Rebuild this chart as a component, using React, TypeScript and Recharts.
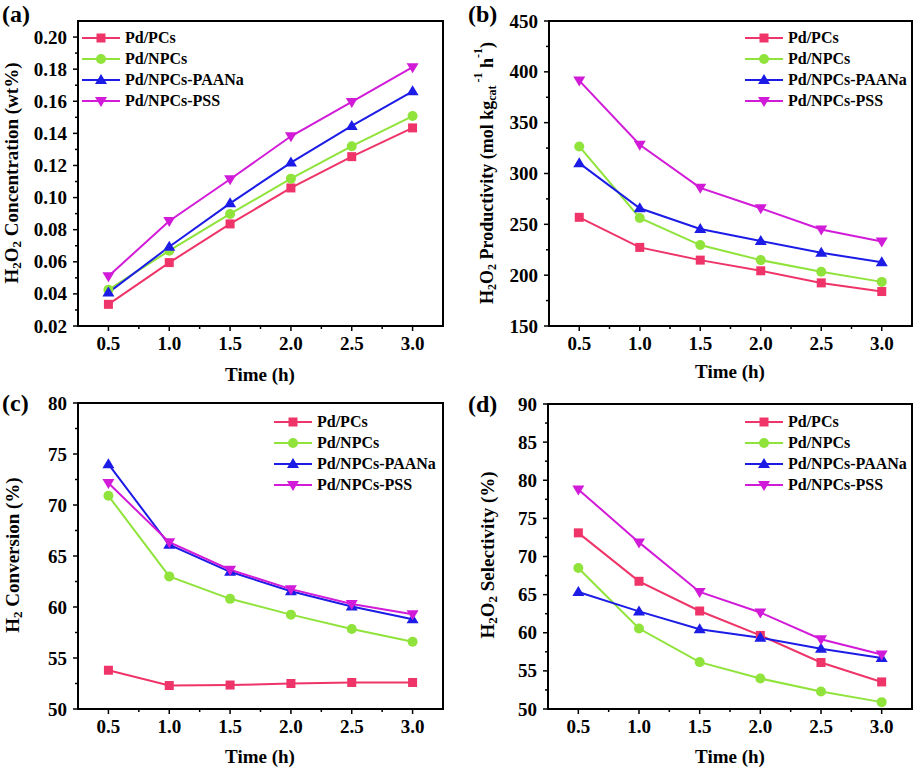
import { LineChart, Line, XAxis, YAxis, Legend, Label, ReferenceArea } from "recharts";

const FONT = '"Liberation Serif", "Times New Roman", serif';

const TIMES = [0.5, 1.0, 1.5, 2.0, 2.5, 3.0];
const X_TICKS = [0.5, 0.75, 1.0, 1.25, 1.5, 1.75, 2.0, 2.25, 2.5, 2.75, 3.0];
const X_MAJOR = [0.5, 1.0, 1.5, 2.0, 2.5, 3.0];

// (a) H2O2 concentration (wt%)
const concPCs = [0.0335, 0.0595, 0.0836, 0.106, 0.1255, 0.1434];
const concNPCs = [0.0426, 0.0669, 0.0898, 0.1118, 0.132, 0.1508];
const concPAANa = [0.0408, 0.0694, 0.0964, 0.1218, 0.1446, 0.1662];
const concPSS = [0.051, 0.0854, 0.1114, 0.1382, 0.1596, 0.1812];

// (b) H2O2 productivity
const prodPCs = [256.9, 227.3, 214.8, 204.3, 192.4, 183.9];
const prodNPCs = [326.6, 256.3, 229.6, 214.8, 203.3, 193.4];
const prodPAANa = [310.2, 265.8, 245.4, 233.6, 222.0, 212.8];
const prodPSS = [391.4, 328.3, 285.9, 265.8, 245.0, 233.2];

// (c) H2 conversion (%)
const convPCs = [53.8, 52.3, 52.35, 52.5, 52.6, 52.6];
const convNPCs = [70.9, 63.0, 60.8, 59.25, 57.85, 56.6];
const convPAANa = [74.0, 66.1, 63.45, 61.55, 60.05, 58.8];
const convPSS = [72.15, 66.35, 63.65, 61.75, 60.3, 59.3];

// (d) H2O2 selectivity (%)
const selPCs = [73.1, 66.75, 62.85, 59.65, 56.1, 53.55];
const selNPCs = [68.5, 60.55, 56.15, 54.0, 52.3, 50.9];
const selPAANa = [65.35, 62.8, 60.45, 59.35, 57.9, 56.7];
const selPSS = [78.8, 71.85, 65.35, 62.65, 59.15, 57.15];

const SERIES = [
  { key: "pcs", name: "Pd/PCs", color: "#EE3468", shape: "square" },
  { key: "npcs", name: "Pd/NPCs", color: "#8FE33B", shape: "circle" },
  { key: "paana", name: "Pd/NPCs-PAANa", color: "#1C1CE6", shape: "up" },
  { key: "pss", name: "Pd/NPCs-PSS", color: "#D21BD8", shape: "down" },
];

const build = (a: number[], b: number[], c: number[], d: number[]) =>
  TIMES.map((t, i) => ({ t, pcs: a[i], npcs: b[i], paana: c[i], pss: d[i] }));

function Marker({ shape, cx, cy, color }: any) {
  if (shape === "square")
    return <rect x={cx - 4.5} y={cy - 4.5} width={9} height={9} fill={color} />;
  if (shape === "circle") return <circle cx={cx} cy={cy} r={5} fill={color} />;
  if (shape === "up")
    return <polygon points={`${cx},${cy - 6} ${cx + 6},${cy + 4} ${cx - 6},${cy + 4}`} fill={color} />;
  return <polygon points={`${cx},${cy + 6} ${cx + 6},${cy - 4} ${cx - 6},${cy - 4}`} fill={color} />;
}

const isMajor = (majors: number[], v: number) => majors.some((m) => Math.abs(m - v) < 1e-9);

const xTick = (p: any) => {
  const { x, y, payload } = p;
  const major = isMajor(X_MAJOR, payload.value);
  return (
    <g>
      <line x1={x} x2={x} y1={y} y2={y + (major ? 5 : 3)} stroke="#000" strokeWidth={1.5} />
      {major && (
        <text x={x} y={y + 24} textAnchor="middle" fontFamily={FONT} fontWeight="bold" fontSize={19} fill="#000">
          {payload.value.toFixed(1)}
        </text>
      )}
    </g>
  );
};

const makeYTick = (majors: number[], digits: number) => (p: any) => {
  const { x, y, payload } = p;
  const major = isMajor(majors, payload.value);
  return (
    <g>
      <line x1={x - (major ? 5 : 3)} x2={x} y1={y} y2={y} stroke="#000" strokeWidth={1.5} />
      {major && (
        <text x={x - 11} y={y + 6.5} textAnchor="end" fontFamily={FONT} fontWeight="bold" fontSize={19} fill="#000">
          {payload.value.toFixed(digits)}
        </text>
      )}
    </g>
  );
};

const legendContent = () => (
  <div style={{ fontFamily: FONT, fontWeight: "bold", fontSize: 16, color: "#000" }}>
    {SERIES.map((s) => (
      <div key={s.key} style={{ display: "flex", alignItems: "center", height: 21, whiteSpace: "nowrap" }}>
        <svg width={43} height={14} style={{ flex: "none" }}>
          <line x1={0} x2={38} y1={7} y2={7} stroke={s.color} strokeWidth={2} />
          <Marker shape={s.shape} cx={19} cy={7} color={s.color} />
        </svg>
        <span>{s.name}</span>
      </div>
    ))}
  </div>
);

function Panel({ left, top, width, height, margin, yWidth, xHeight, data, domain, yTicks, yMajor, digits, yTitle, yTitleSize, yTitlePos, xTitlePos, legendPos }: any) {
  return (
    <div style={{ position: "absolute", left, top, width, height }}>
      <LineChart width={width} height={height} data={data} margin={margin}>
        <XAxis
          dataKey="t"
          type="number"
          domain={[0.25, 3.25]}
          ticks={X_TICKS}
          interval={0}
          height={xHeight}
          tickSize={0}
          tickMargin={0}
          tickLine={false}
          tick={xTick}
          axisLine={{ stroke: "#000", strokeWidth: 2 }}
        >
          <Label
            content={() => (
              <text x={xTitlePos[0]} y={xTitlePos[1]} textAnchor="middle" fontFamily={FONT} fontWeight="bold" fontSize={19} fill="#000">
                Time (h)
              </text>
            )}
          />
        </XAxis>
        <YAxis
          type="number"
          domain={domain}
          ticks={yTicks}
          interval={0}
          width={yWidth}
          tickSize={0}
          tickMargin={0}
          tickLine={false}
          tick={makeYTick(yMajor, digits)}
          axisLine={{ stroke: "#000", strokeWidth: 2 }}
        >
          <Label
            content={() => (
              <text
                x={yTitlePos[0]}
                y={yTitlePos[1]}
                transform={`rotate(-90, ${yTitlePos[0]}, ${yTitlePos[1]})`}
                textAnchor="middle"
                dominantBaseline="central"
                fontFamily={FONT}
                fontWeight="bold"
                fontSize={yTitleSize}
                fill="#000"
              >
                {yTitle}
              </text>
            )}
          />
        </YAxis>
        <ReferenceArea x1={0.25} x2={3.25} y1={domain[0]} y2={domain[1]} fill="none" fillOpacity={0} stroke="#000" strokeWidth={2} />
        <Legend
          layout="vertical"
          align="center"
          verticalAlign="middle"
          content={legendContent}
          wrapperStyle={{ left: legendPos[0], top: legendPos[1], width: 160 }}
        />
        {SERIES.map((s) => (
          <Line
            key={s.key}
            type="linear"
            dataKey={s.key}
            name={s.name}
            stroke={s.color}
            strokeWidth={2}
            isAnimationActive={false}
            activeDot={false}
            dot={(p: any) => <Marker key={`${s.key}-${p.index}`} shape={s.shape} cx={p.cx} cy={p.cy} color={s.color} />}
          />
        ))}
      </LineChart>
    </div>
  );
}

export default function App() {
  const titleA = (
    <>
      <tspan>H</tspan>
      <tspan dy={5} fontSize={13}>2</tspan>
      <tspan dy={-5}>O</tspan>
      <tspan dy={5} fontSize={13}>2</tspan>
      <tspan dy={-5}> Concentration (wt%)</tspan>
    </>
  );
  const titleB = (
    <>
      <tspan>H</tspan>
      <tspan dy={5} fontSize={12}>2</tspan>
      <tspan dy={-5}>O</tspan>
      <tspan dy={5} fontSize={12}>2</tspan>
      <tspan dy={-5}> Productivity (mol kg</tspan>
      <tspan dy={5} fontSize={12}>cat</tspan>
      <tspan dy={-14} fontSize={12}> -1</tspan>
      <tspan dy={9}> h</tspan>
      <tspan dy={-9} fontSize={12}>-1</tspan>
      <tspan dy={9}>)</tspan>
    </>
  );
  const titleC = (
    <>
      <tspan>H</tspan>
      <tspan dy={5} fontSize={13}>2</tspan>
      <tspan dy={-5}> Conversion (%)</tspan>
    </>
  );
  const titleD = (
    <>
      <tspan>H</tspan>
      <tspan dy={5} fontSize={13}>2</tspan>
      <tspan dy={-5}>O</tspan>
      <tspan dy={5} fontSize={13}>2</tspan>
      <tspan dy={-5}> Selectivity (%)</tspan>
    </>
  );

  return (
    <div style={{ position: "absolute", left: 0, top: 0, width: 915, height: 767, overflow: "hidden", background: "#fff" }}>
      <Panel
        left={0}
        top={0}
        width={457}
        height={393}
        margin={{ top: 21, right: 14, bottom: 10, left: 0 }}
        yWidth={78}
        xHeight={57}
        data={build(concPCs, concNPCs, concPAANa, concPSS)}
        domain={[0.02, 0.21]}
        yTicks={[0.02, 0.03, 0.04, 0.05, 0.06, 0.07, 0.08, 0.09, 0.1, 0.11, 0.12, 0.13, 0.14, 0.15, 0.16, 0.17, 0.18, 0.19, 0.2]}
        yMajor={[0.02, 0.04, 0.06, 0.08, 0.1, 0.12, 0.14, 0.16, 0.18, 0.2]}
        digits={2}
        yTitle={titleA}
        yTitleSize={19}
        yTitlePos={[11, 173]}
        xTitlePos={[260, 381]}
        legendPos={[82, 27]}
      />
      <Panel
        left={457}
        top={0}
        width={458}
        height={393}
        margin={{ top: 21, right: 3, bottom: 10, left: 0 }}
        yWidth={92}
        xHeight={57}
        data={build(prodPCs, prodNPCs, prodPAANa, prodPSS)}
        domain={[150, 450]}
        yTicks={[150, 175, 200, 225, 250, 275, 300, 325, 350, 375, 400, 425, 450]}
        yMajor={[150, 200, 250, 300, 350, 400, 450]}
        digits={0}
        yTitle={titleB}
        yTitleSize={18}
        yTitlePos={[30, 173]}
        xTitlePos={[273, 378]}
        legendPos={[288, 27]}
      />
      <Panel
        left={0}
        top={383}
        width={457}
        height={394}
        margin={{ top: 20, right: 14, bottom: 10, left: 0 }}
        yWidth={78}
        xHeight={58}
        data={build(convPCs, convNPCs, convPAANa, convPSS)}
        domain={[50, 80]}
        yTicks={[50, 52.5, 55, 57.5, 60, 62.5, 65, 67.5, 70, 72.5, 75, 77.5, 80]}
        yMajor={[50, 55, 60, 65, 70, 75, 80]}
        digits={0}
        yTitle={titleC}
        yTitleSize={19}
        yTitlePos={[12, 172]}
        xTitlePos={[260, 380]}
        legendPos={[274, 28]}
      />
      <Panel
        left={457}
        top={383}
        width={458}
        height={394}
        margin={{ top: 21, right: 3, bottom: 10, left: 0 }}
        yWidth={91}
        xHeight={58}
        data={build(selPCs, selNPCs, selPAANa, selPSS)}
        domain={[50, 90]}
        yTicks={[50, 52.5, 55, 57.5, 60, 62.5, 65, 67.5, 70, 72.5, 75, 77.5, 80, 82.5, 85, 87.5, 90]}
        yMajor={[50, 55, 60, 65, 70, 75, 80, 85, 90]}
        digits={0}
        yTitle={titleD}
        yTitleSize={19}
        yTitlePos={[30, 172]}
        xTitlePos={[273, 380]}
        legendPos={[288, 28]}
      />
      <svg width={915} height={767} style={{ position: "absolute", left: 0, top: 0, pointerEvents: "none" }}>
        <g fontFamily={FONT} fontWeight="bold" fontSize={24} fill="#000">
          <text x={2} y={22}>(a)</text>
          <text x={468} y={22}>(b)</text>
          <text x={2} y={411}>(c)</text>
          <text x={468} y={412}>(d)</text>
        </g>
      </svg>
    </div>
  );
}
